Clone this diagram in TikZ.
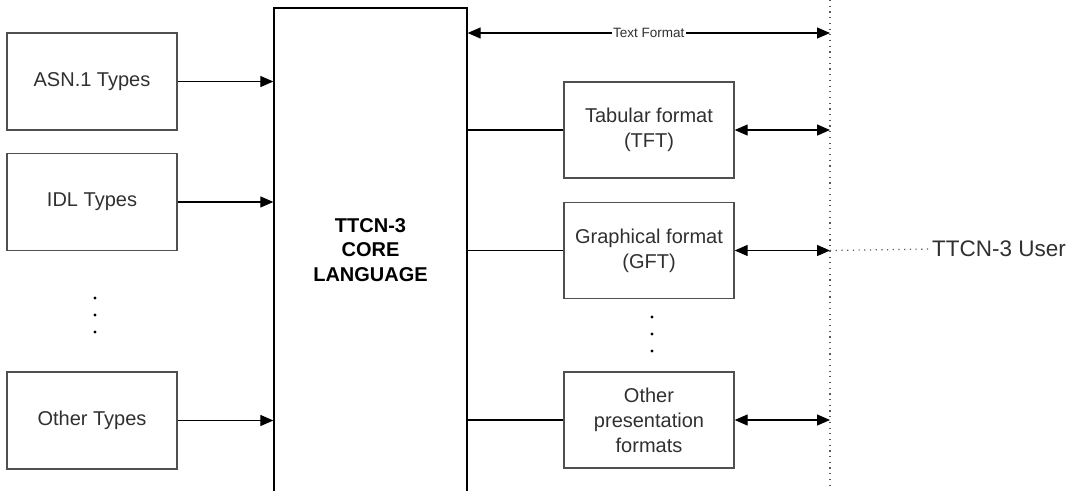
\documentclass[tikz,border=0pt]{standalone}
\usepackage{fontspec}
\setmainfont{Liberation Sans}
\usetikzlibrary{arrows.meta,calc}
\definecolor{boxline}{HTML}{505050}
\definecolor{boxtext}{HTML}{303030}
\begin{document}
\begin{tikzpicture}[x=1pt,y=-1pt,
  typebox/.style={draw=boxline,line width=1.3pt,minimum width=170pt,minimum height=97pt,
    inner sep=0pt,align=center,text=boxtext,font=\fontsize{20}{25}\selectfont},
  fmtbox/.style={typebox,minimum height=96pt},
  link/.style={line width=1.2pt,black},
  tip/.style={-{Triangle[length=13pt,width=11pt]}},
  both/.style={{Triangle[length=13pt,width=11pt]}-{Triangle[length=13pt,width=11pt]}},
  dotline/.style={line width=1.3pt,gray!70!black,dash pattern=on 1.2pt off 4.5pt},
  dot/.style={circle,fill=black,inner sep=0pt,minimum size=3.4pt}]
\useasboundingbox (0,0) rectangle (1078,490);
\clip (0,0) rectangle (1078,490);

% core language block (runs past the lower edge)
\node[draw=black,line width=1.3pt,minimum width=193pt,minimum height=484pt,inner sep=0pt,
  align=center,font=\bfseries\fontsize{20}{24.5}\selectfont] (core) at (370.5,250)
  {TTCN-3\\CORE\\LANGUAGE};

% type sources
\node[typebox] (asn) at (92,81.5) {ASN.1 Types};
\node[typebox] (idl) at (92,202) {IDL Types};
\node[typebox] (oth) at (92,420.5) {Other Types};
\node[dot] (ld1) at (95,298) {};
\node[dot] (ld2) at (95,315) {};
\node[dot] (ld3) at (95,332) {};

\draw[link,tip] (asn.east) -- (asn.east -| core.west);
\draw[link,tip] (idl.east) -- (idl.east -| core.west);
\draw[link,tip] (oth.east) -- (oth.east -| core.west);

% presentation formats
\node[fmtbox] (tft) at (649,130) {Tabular format\\(TFT)};
\node[fmtbox] (gft) at (649,250.5) {Graphical format\\(GFT)};
\node[fmtbox] (opf) at (649,420) {Other\\presentation\\formats};
\node[dot] (rd1) at (652,317) {};
\node[dot] (rd2) at (652,334) {};
\node[dot] (rd3) at (652,351) {};

\draw[link] (tft.west -| core.east) -- (tft.west);
\draw[link] (gft.west -| core.east) -- (gft.west);
\draw[link] (opf.west -| core.east) -- (opf.west);

% user boundary
\coordinate (ut) at (830,0);
\coordinate (ub) at (830,490);
\draw[dotline] (ut) -- (ub);

\coordinate (tf) at (830,33);
\draw[link,both] (tf -| core.east) -- node[fill=white,inner sep=1.5pt,text=boxtext,
  font=\fontsize{13.5}{16}\selectfont] (tflabel) {Text Format} (tf);

\draw[link,both] (tft.east) -- (tft.east -| ut);
\draw[link,both] (gft.east) -- (gft.east -| ut);
\draw[link,both] (opf.east) -- (opf.east -| ut);

\node[anchor=west,inner sep=0pt,text=boxtext,font=\fontsize{22.5}{27}\selectfont] (user) at (932,249) {TTCN-3 User};
\draw[dotline] (gft.east -| ut) -- (user.west);
\end{tikzpicture}
\end{document}
